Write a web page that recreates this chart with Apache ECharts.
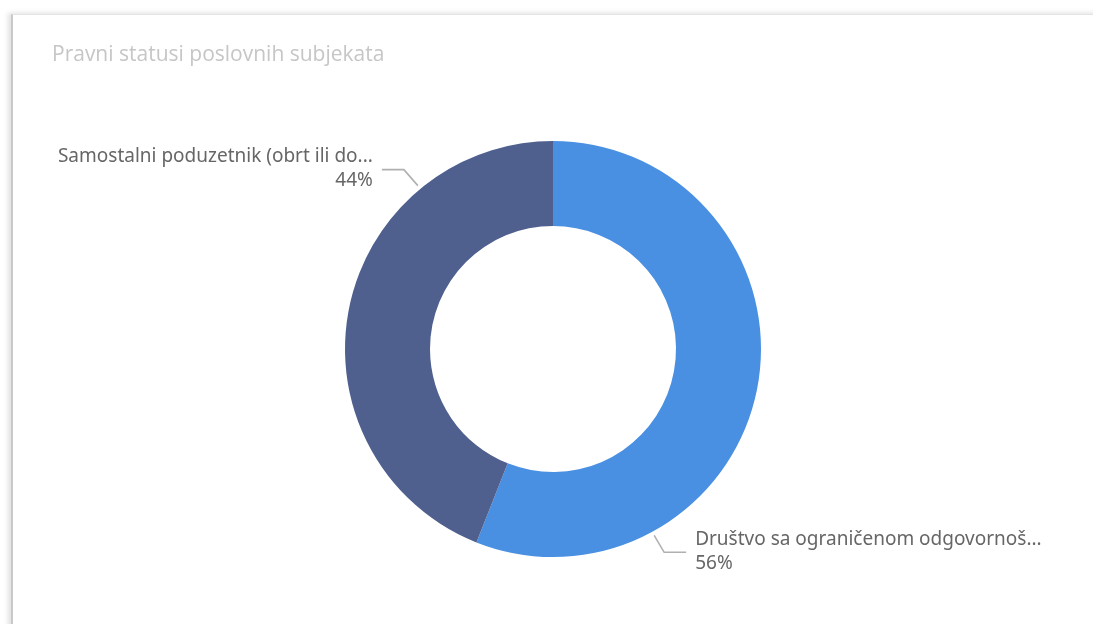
<!DOCTYPE html>
<html>
<head>
<meta charset="utf-8">
<script src="https://cdn.jsdelivr.net/npm/echarts@6/dist/echarts.min.js"></script>
<style>
  html, body { margin: 0; padding: 0; background: #ffffff; width: 1093px; height: 624px; overflow: hidden; }
  #card {
    position: absolute; left: 11px; top: 14px; width: 1120px; height: 650px;
    background: #ffffff;
    border-left: 2px solid #c9c9c9;
    border-top: 1px solid #e4e4e4;
    box-shadow: -3px -1px 5px rgba(0,0,0,0.12);
  }
  #chart { position: absolute; left: 0; top: 0; width: 1093px; height: 624px; }
</style>
</head>
<body>
<div id="card"></div>
<div id="chart"></div>
<script>
// Legal status of business entities: share of each form
const titleText = 'Pravni statusi poslovnih subjekata';
const categories = [
  'Društvo sa ograničenom odgovornoš...',
  'Samostalni poduzetnik (obrt ili do...'
];
const shares = [56, 44];
const sliceColors = ['#4a90e2', '#4f5f8e'];

// Pie geometry (pixels)
const CX = 553, CY = 349, R_IN = 123, R_OUT = 208;
// Where each leader line meets the ring, degrees clockwise from 12 o'clock
const anchorAngles = [151.5, 320.4];

const chart = echarts.init(document.getElementById('chart'), null, { renderer: 'canvas' });

chart.setOption({
  animation: false,
  title: {
    text: titleText,
    left: 47, top: 40,
    textStyle: { fontFamily: 'Open Sans', fontWeight: 'normal', fontSize: 21, color: '#c6c6c6' }
  },
  series: [{
    type: 'pie',
    center: [CX, CY],
    radius: [R_IN, R_OUT],
    startAngle: 90,
    clockwise: true,
    avoidLabelOverlap: false,
    data: categories.map((name, i) => ({
      name, value: shares[i], itemStyle: { color: sliceColors[i] }
    })),
    label: {
      show: true,
      position: 'outside',
      formatter: '{b}\n{d}%',
      fontFamily: 'Noto Sans',
      fontSize: 19,
      lineHeight: 24,
      color: '#666666'
    },
    labelLine: { show: true, lineStyle: { color: '#b0b0b0', width: 1.6 } },
    labelLayout: function (p) {
      const a = anchorAngles[p.dataIndex] * Math.PI / 180;
      const r = R_OUT + 4;
      const px = CX + r * Math.sin(a), py = CY - r * Math.cos(a);
      const right = Math.sin(a) > 0;
      const below = py > CY;
      const ex = px + (right ? 10 : -14);
      const ey = py + (below ? 17 : -16);
      const hx = ex + (right ? 22 : -22);
      return {
        x: hx + (right ? 9 : -9),
        y: ey - 1,
        align: right ? 'left' : 'right',
        verticalAlign: 'middle',
        labelLinePoints: [[px, py], [ex, ey], [hx, ey]]
      };
    }
  }]
});
</script>
</body>
</html>
